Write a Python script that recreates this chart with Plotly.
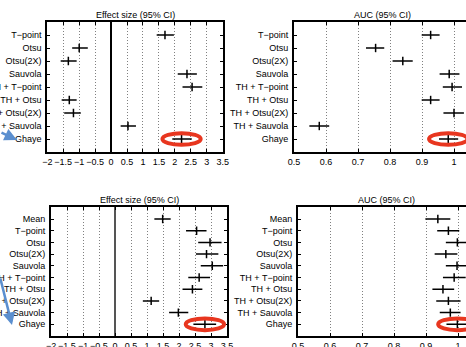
import plotly.graph_objects as go

W, H = 466, 347

# ---------------- data ----------------
methods_top = ["T\u2212point", "Otsu", "Otsu(2X)", "Sauvola", "TH + T\u2212point",
               "TH + Otsu", "TH + Otsu(2X)", "TH + Sauvola", "Ghaye"]
es_top = [1.69, -1.00, -1.34, 2.38, 2.54, -1.31, -1.18, 0.53, 2.21]
es_top_lo = [1.43, -1.22, -1.58, 2.09, 2.24, -1.55, -1.47, 0.30, 1.92]
es_top_hi = [1.97, -0.73, -1.08, 2.69, 2.86, -1.08, -0.95, 0.78, 2.53]

auc_top = [0.927, 0.755, 0.840, 0.985, 0.994, 0.927, 1.000, 0.579, 0.982]
auc_top_lo = [0.899, 0.725, 0.808, 0.955, 0.965, 0.899, 0.967, 0.548, 0.953]
auc_top_hi = [0.955, 0.782, 0.871, 1.017, 1.025, 0.955, 1.031, 0.610, 1.013]

methods_bot = ["Mean", "T\u2212point", "Otsu", "Otsu(2X)", "Sauvola", "TH + T\u2212point",
               "TH + Otsu", "TH + Otsu(2X)", "TH + Sauvola", "Ghaye"]
es_bot = [1.49, 2.55, 2.97, 2.86, 3.04, 2.63, 2.42, 1.13, 1.98, 2.81]
es_bot_lo = [1.23, 2.22, 2.60, 2.53, 2.68, 2.29, 2.11, 0.87, 1.69, 2.45]
es_bot_hi = [1.74, 2.86, 3.33, 3.23, 3.38, 2.97, 2.73, 1.38, 2.29, 3.16]

auc_bot = [0.937, 0.970, 0.998, 0.962, 0.997, 0.988, 0.953, 0.970, 0.976, 0.998]
auc_bot_lo = [0.898, 0.935, 0.962, 0.927, 0.962, 0.953, 0.920, 0.932, 0.943, 0.964]
auc_bot_hi = [0.976, 1.004, 1.035, 0.998, 1.033, 1.024, 0.988, 1.008, 1.008, 1.032]

es_ticks = [-2, -1.5, -1, -0.5, 0, 0.5, 1, 1.5, 2, 2.5, 3, 3.5]
es_ticklabels = ["\u22122", "\u22121.5", "\u22121", "\u22120.5", "0", "0.5", "1", "1.5",
                 "2", "2.5", "3", "3.5"]
auc_ticks = [0.5, 0.6, 0.7, 0.8, 0.9, 1.0, 1.1]
auc_ticklabels = ["0.5", "0.6", "0.7", "0.8", "0.9", "1", "1.1"]

titles = ["Effect size (95% CI)", "AUC (95% CI)", "Effect size (95% CI)", "AUC (95% CI)"]

# ---------------- layout helpers ----------------
FONT = "Liberation Sans, Arial, Helvetica, sans-serif"


def px_x(p):
    return p / W


def px_y(p):
    return 1 - p / H


panels = [
    ("", (47.3, 222.7), (22, 152), [-2, 3.5], methods_top, es_top, es_top_lo, es_top_hi, "es", "#000000"),
    ("2", (294, 466), (22, 152), [0.5, 0.5 + 172 / 320], methods_top, auc_top, auc_top_lo, auc_top_hi, "auc", None),
    ("3", (51, 227), (207.3, 336), [-2, 3.5], methods_bot, es_bot, es_bot_lo, es_bot_hi, "es", "#555555"),
    ("4", (298, 466), (207.3, 336), [0.5, 0.5 + 168 / 320], methods_bot, auc_bot, auc_bot_lo, auc_bot_hi, "auc", None),
]
title_centers = [135, 382, 139, 386]
title_ys = [15, 15, 199.5, 199.5]

fig = go.Figure()
layout = dict(
    width=W, height=H,
    margin=dict(l=0, r=0, t=0, b=0),
    paper_bgcolor="white", plot_bgcolor="white",
    showlegend=False,
    font=dict(family=FONT, size=9, color="black"),
    shapes=[], annotations=[],
)

for i, (ax, xd, yd, xr, meth, c, lo, hi, kind, zcol) in enumerate(panels):
    xname = "xaxis" + ax
    yname = "yaxis" + ax
    xref = "x" + ax
    yref = "y" + ax
    fig.add_trace(go.Scatter(
        x=c, y=meth, xaxis=xref, yaxis=yref, mode="markers",
        marker=dict(symbol="line-ns-open", size=6, color="black",
                    line=dict(color="black", width=1.5)),
        error_x=dict(type="data", symmetric=False,
                     array=[h - v for h, v in zip(hi, c)],
                     arrayminus=[v - l for v, l in zip(c, lo)],
                     color="black", thickness=1.5, width=0),
        hoverinfo="skip",
    ))
    n = len(meth)
    is_es = kind == "es"
    layout[xname] = dict(
        domain=[px_x(xd[0]), px_x(xd[1])], anchor=yref,
        range=xr, tickvals=es_ticks if is_es else auc_ticks,
        ticktext=es_ticklabels if is_es else auc_ticklabels,
        tickangle=0,
        showgrid=True, gridcolor="#808080", griddash="1px,2px", gridwidth=1,
        zeroline=is_es, zerolinecolor=zcol if zcol else "black", zerolinewidth=1.8,
        showline=True, linecolor="black", linewidth=2, mirror="ticks",
        ticks="inside", ticklen=3, tickcolor="black", tickwidth=1,
        tickfont=dict(family=FONT, size=9, color="black"),
        automargin=False, fixedrange=True,
    )
    layout[yname] = dict(
        domain=[px_y(yd[1]), px_y(yd[0])], anchor=xref,
        type="category", categoryorder="array", categoryarray=meth,
        range=[n, -1],
        showgrid=False, zeroline=False,
        showline=True, linecolor="black", linewidth=2,
        mirror="ticks" if is_es else False,
        ticks="inside", ticklen=3, tickcolor="black", tickwidth=1,
        tickfont=dict(family=FONT, size=9, color="black"),
        ticklabelstandoff=2,
        automargin=False, fixedrange=True,
    )
    g = c[-1]
    hw = 0.6 if is_es else 0.06
    hh = 0.45 if i < 2 else 0.5
    layout["shapes"].append(dict(
        type="circle", xref=xref, yref=yref,
        x0=g - hw, x1=g + hw, y0=(n - 1) - hh, y1=(n - 1) + hh,
        line=dict(color="#e8361f", width=4), layer="above",
    ))
    layout["annotations"].append(dict(
        text=titles[i], x=px_x(title_centers[i]), y=px_y(title_ys[i]),
        xref="paper", yref="paper", xanchor="center", yanchor="middle",
        showarrow=False, font=dict(family=FONT, size=9, color="black"),
    ))

layout["annotations"].append(dict(
    text="", x=px_x(17), y=px_y(140), xref="paper", yref="paper",
    showarrow=True, ax=-24, ay=-8, arrowhead=2, arrowsize=1, arrowwidth=2.5,
    arrowcolor="#5b8fcf",
))
layout["annotations"].append(dict(
    text="", x=px_x(12), y=px_y(325), xref="paper", yref="paper",
    showarrow=True, ax=-14, ay=-48, arrowhead=2, arrowsize=1, arrowwidth=2.5,
    arrowcolor="#5b8fcf",
))

fig.update_layout(**layout)
fig.write_html("out.html", config={"displayModeBar": False, "staticPlot": True},
               post_script="document.body.style.margin='0';document.body.style.overflow='hidden';")
